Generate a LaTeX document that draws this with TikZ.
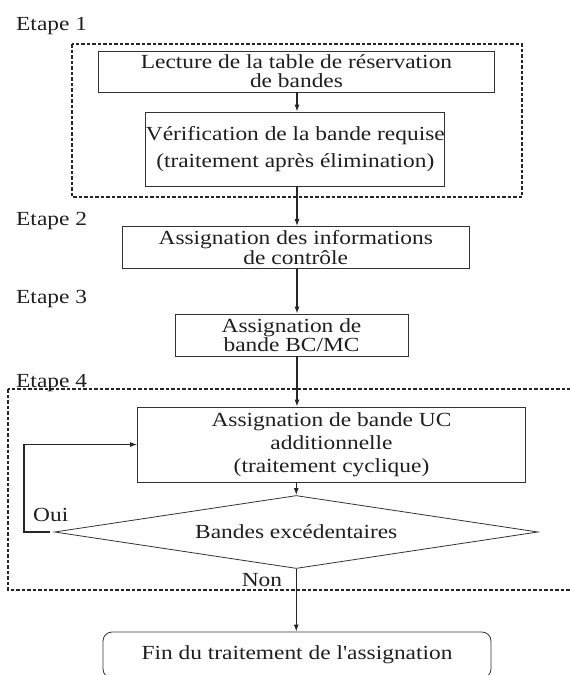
\documentclass[tikz,border=0pt]{standalone}
\usepackage{fontspec}
\newfontfamily\plainfont{Liberation Serif}[FakeStretch=1.17]
\usetikzlibrary{shapes.geometric,arrows.meta}
\begin{document}
\begin{tikzpicture}[x=1pt,y=-1pt,
  every node/.style={inner sep=0pt, text=black!88},
  box/.style={draw=black!80, line width=0.8pt, rectangle, align=center},
  lbl/.style={font=\plainfont\fontsize{20}{22}\selectfont, anchor=base west},
  grp/.style={draw=black!85, line width=1.1pt, dash pattern=on 3.5pt off 2pt},
  arr/.style={draw=black!85, line width=1.1pt, -{Latex[length=7pt,width=5pt]}}]
\useasboundingbox (0,0) rectangle (570,675);
\coordinate (ax) at (297,0);
% groups
\draw[grp] (72,44) rectangle (522,197);
\draw[grp] (8,389) rectangle (575,590);
% labels
\node[lbl] (e1) at (16,30) {Etape 1};
\node[lbl] (e2) at (16,225) {Etape 2};
\node[lbl] (e3) at (16,303) {Etape 3};
\node[lbl] (e4) at (16,387) {Etape 4};
% boxes
\node[box, minimum width=396pt, minimum height=41pt, font=\plainfont\fontsize{20}{19}\selectfont]
  (b1) at (296.5,71.5) {Lecture de la table de réservation\\de bandes};
\node[box, minimum width=287.4pt, minimum height=74pt, font=\plainfont\fontsize{20}{27}\selectfont]
  (b2) at (295.3,149) {Vérification de la bande requise\\(traitement après élimination)};
\node[box, minimum width=346.5pt, minimum height=42pt, font=\plainfont\fontsize{20}{18}\selectfont]
  (b3) at (295.75,247.5) {Assignation des informations\\de contrôle};
\node[box, minimum width=233pt, minimum height=42pt, font=\plainfont\fontsize{20}{18}\selectfont]
  (b4) at (291.5,335) {Assignation de\\bande BC/MC};
\node[box, minimum width=388pt, minimum height=75pt, font=\plainfont\fontsize{20}{23}\selectfont]
  (b5) at (331.5,444.5) {Assignation de bande UC\\additionnelle\\(traitement cyclique)};
\node[draw=black!80, line width=0.8pt, diamond, aspect=6.6, minimum width=483.5pt, minimum height=73pt,
  font=\plainfont\fontsize{20}{24}\selectfont] (d) at (296.25,532) {Bandes excédentaires};
\node[box, rounded corners=9pt, minimum width=388pt, minimum height=46pt,
  font=\plainfont\fontsize{20}{24}\selectfont] (fin) at (297,655) {Fin du traitement de l'assignation};
% branch labels
\node[lbl] (oui) at (33,521) {Oui};
\node[font=\plainfont\fontsize{20}{24}\selectfont, anchor=base] (non) at (262,586) {Non};
% connectors
\draw[arr] (b1.south -| ax) -- (b2.north -| ax);
\draw[arr] (b2.south -| ax) -- (b3.north -| ax);
\draw[arr] (b3.south -| ax) -- (b4.north -| ax);
\draw[arr] (b4.south -| ax) -- (b5.north -| ax);
\draw[arr] (b5.south -| d.north) -- (d.north);
\draw[arr] (d.south) -- (fin.north -| d.south);
\coordinate (lp) at (24,532);
\draw[arr, shorten <=4pt] (d.west) -- (lp) |- (b5.west);
\end{tikzpicture}
\end{document}
